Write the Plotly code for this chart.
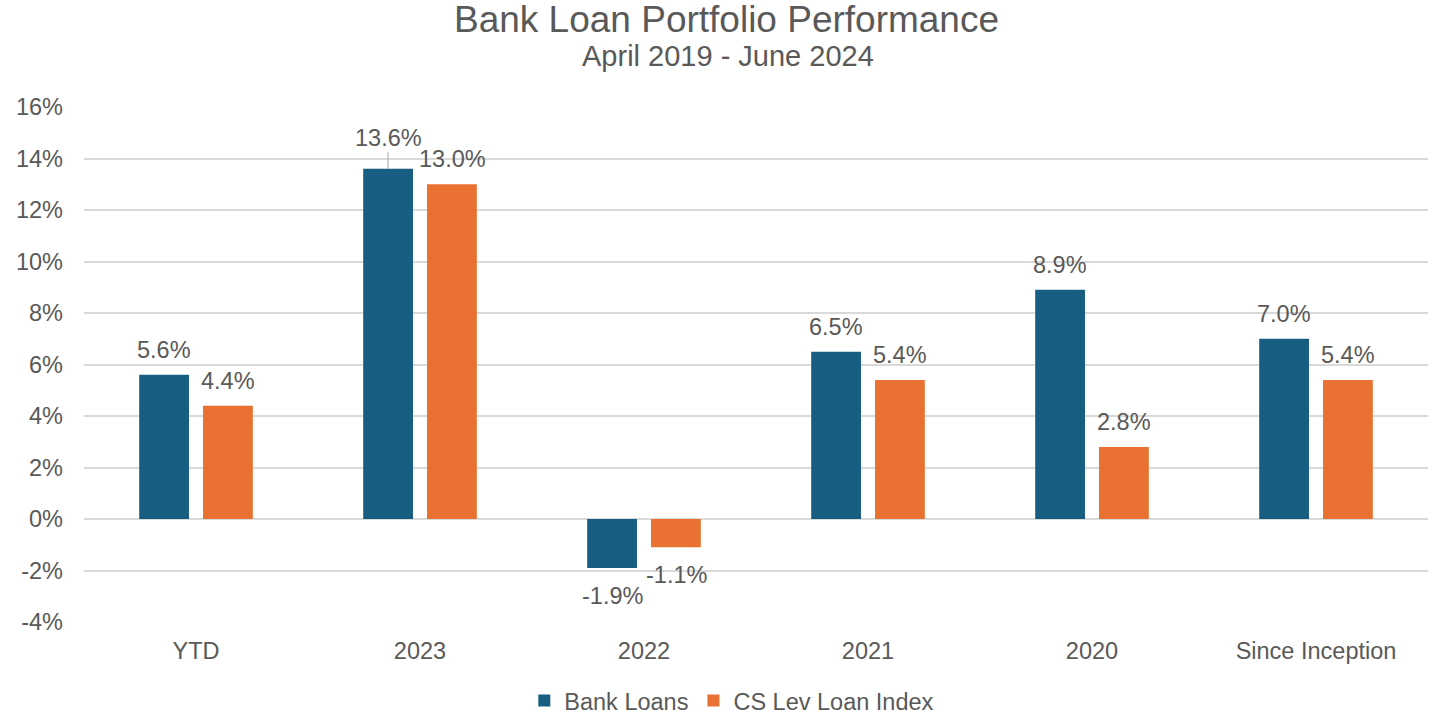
import plotly.graph_objects as go

categories = ["YTD", "2023", "2022", "2021", "2020", "Since Inception"]
bank_loans = [5.6, 13.6, -1.9, 6.5, 8.9, 7.0]
cs_lev_loan = [4.4, 13.0, -1.1, 5.4, 2.8, 5.4]
y_ticks = [-4, -2, 0, 2, 4, 6, 8, 10, 12, 14, 16]
y_tick_text = [f"{v}%" for v in y_ticks]

BLUE = "#175E82"
ORANGE = "#E97132"
TEXT = "#595959"
FONT = "Liberation Sans, Arial, sans-serif"
LBL = 23.5

fig = go.Figure()
fig.add_trace(go.Bar(x=categories, y=bank_loans, name="Bank Loans",
                     marker=dict(color=BLUE, line=dict(width=0))))
fig.add_trace(go.Bar(x=categories, y=cs_lev_loan, name="CS Lev Loan Index",
                     marker=dict(color=ORANGE, line=dict(width=0))))

annotations = []
for series, shift in ((bank_loans, -32), (cs_lev_loan, 32)):
    for i, v in enumerate(series):
        lead = (categories[i] == "2023" and series is bank_loans)
        if lead:
            annotations.append(dict(
                x=i, y=v, xref="x", yref="y", text=f"{v:.1f}%",
                xshift=shift, showarrow=True, arrowhead=0, arrowwidth=1,
                arrowcolor="#A6A6A6", ax=0, ay=-31, standoff=0,
                font=dict(size=LBL, color=TEXT, family=FONT)))
        else:
            annotations.append(dict(
                x=i, y=v, xref="x", yref="y", text=f"{v:.1f}%",
                xshift=shift, yshift=25 if v >= 0 else -28,
                showarrow=False, yanchor="middle", xanchor="center",
                font=dict(size=LBL, color=TEXT, family=FONT)))

annotations.append(dict(x=0.478, y=1.169, xref="paper", yref="paper",
                        text="Bank Loan Portfolio Performance", showarrow=False,
                        yanchor="middle", font=dict(size=37, color=TEXT, family=FONT)))
annotations.append(dict(x=0.479, y=1.099, xref="paper", yref="paper",
                        text="April 2019 - June 2024", showarrow=False,
                        yanchor="middle", font=dict(size=29, color=TEXT, family=FONT)))

fig.update_layout(
    width=1434, height=721,
    margin=dict(l=84, r=6, t=107, b=99, autoexpand=False),
    paper_bgcolor="white", plot_bgcolor="white",
    barmode="group", bargap=0.43, bargroupgap=0.22,
    font=dict(family=FONT, color=TEXT, size=LBL),
    showlegend=True,
    legend=dict(orientation="h", x=0.482, xanchor="center", y=-0.153, yanchor="middle",
                font=dict(size=LBL, color=TEXT, family=FONT), traceorder="normal"),
    annotations=annotations,
)
fig.update_yaxes(range=[-4, 16], tickvals=y_ticks, ticktext=y_tick_text,
                 showgrid=True, gridcolor="#D9D9D9", gridwidth=1.5,
                 zeroline=True, zerolinecolor="#D9D9D9", zerolinewidth=1.5,
                 showline=False, ticks="", ticklabelstandoff=20,
                 tickfont=dict(size=LBL, color=TEXT, family=FONT))
fig.update_xaxes(type="category", range=[-0.5, len(categories) - 0.5],
                 showline=False, ticks="", ticklabelstandoff=12,
                 tickfont=dict(size=LBL, color=TEXT, family=FONT))

fig.write_html("out.html",
               config={"displayModeBar": False},
               post_script="document.body.style.margin='0px';document.body.style.overflow='hidden';")
